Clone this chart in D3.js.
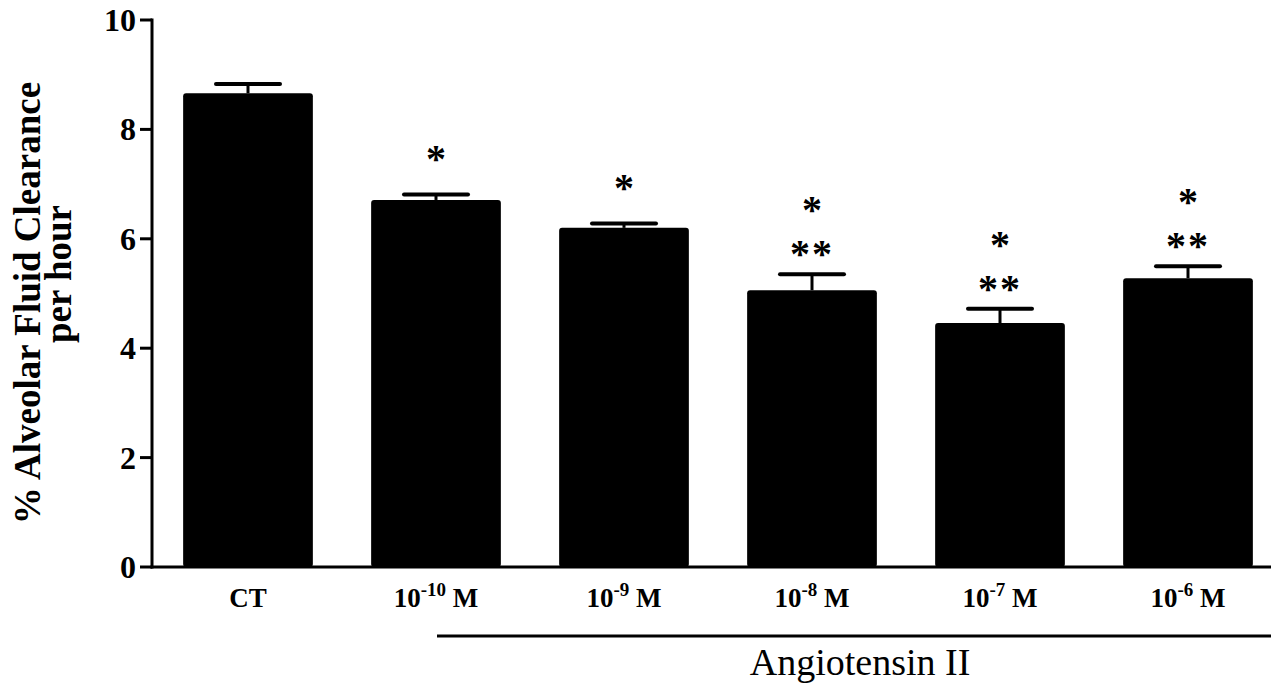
<!DOCTYPE html>
<html>
<head>
<meta charset="utf-8">
<script src="https://cdn.jsdelivr.net/npm/d3@7"></script>
<style>
  body { margin: 0; background: #fff; }
  text { font-family: "Times New Roman", Times, "Liberation Serif", "DejaVu Serif", serif; fill: #000; }
  .tick-label { font-size: 32px; font-weight: bold; }
  .cat-label { font-size: 27px; font-weight: bold; }
  .y-title { font-size: 37px; font-weight: bold; }
  .star { font-size: 40px; font-weight: bold; }
  .group-label { font-size: 38px; }
</style>
</head>
<body>
<div class="chart"></div>
<script>
const categories = ['CT', '10-10', '10-9', '10-8', '10-7', '10-6'];
const exponents = [null, '-10', '-9', '-8', '-7', '-6'];
const means = [8.66, 6.71, 6.20, 5.06, 4.46, 5.28];
const sems = [0.17, 0.10, 0.08, 0.29, 0.26, 0.22];
const stars = [[], ['*'], ['*'], ['**', '*'], ['**', '*'], ['**', '*']];
const yTicks = [0, 2, 4, 6, 8, 10];

const W = 1271, H = 685;

const svg = d3.select('.chart')
  .append('svg')
    .attr('width', W)
    .attr('height', H);

// scales
const x = d3.scaleBand()
  .domain(categories)
  .range([154, 1282])
  .paddingInner(0.31)
  .paddingOuter(0.155);

const y = d3.scaleLinear()
  .domain([0, 10])
  .range([567, 20]);

// bars
svg.append('g')
  .selectAll('rect')
  .data(categories)
  .enter().append('rect')
    .attr('x', d => x(d))
    .attr('y', (d, i) => y(means[i]))
    .attr('width', x.bandwidth())
    .attr('height', (d, i) => y(0) - y(means[i]))
    .attr('rx', 3)
    .style('fill', '#000');

// error bars (upper only)
const err = svg.append('g');
categories.forEach((c, i) => {
  const cx = x(c) + x.bandwidth() / 2;
  err.append('line')
    .attr('x1', cx).attr('x2', cx)
    .attr('y1', y(means[i])).attr('y2', y(means[i] + sems[i]))
    .attr('stroke', '#000').attr('stroke-width', 3);
  err.append('line')
    .attr('x1', cx - 32).attr('x2', cx + 32)
    .attr('y1', y(means[i] + sems[i])).attr('y2', y(means[i] + sems[i]))
    .attr('stroke', '#000').attr('stroke-width', 4)
    .attr('stroke-linecap', 'round');
});

// significance marks
categories.forEach((c, i) => {
  const cx = x(c) + x.bandwidth() / 2;
  const top = y(means[i] + sems[i]);
  stars[i].forEach((s, j) => {
    const centre = stars[i].length === 1 ? top - 36 : top - 21 - j * 44;
    svg.append('text')
      .attr('class', 'star')
      .attr('x', cx)
      .attr('y', centre + 14)
      .attr('text-anchor', 'middle')
      .style('letter-spacing', s.length > 1 ? '2px' : null)
      .text(s);
  });
});

// y axis
svg.append('line')
  .attr('x1', 152).attr('x2', 152)
  .attr('y1', y(10) - 1.5).attr('y2', y(0) + 1.5)
  .attr('stroke', '#000').attr('stroke-width', 3);

svg.selectAll('.ytick')
  .data(yTicks)
  .enter().append('line')
    .attr('class', 'ytick')
    .attr('x1', 140).attr('x2', 152)
    .attr('y1', d => y(d)).attr('y2', d => y(d))
    .attr('stroke', '#000').attr('stroke-width', 3);

svg.selectAll('.tick-label')
  .data(yTicks)
  .enter().append('text')
    .attr('class', 'tick-label')
    .attr('x', 136)
    .attr('y', d => y(d) + 11)
    .attr('text-anchor', 'end')
    .text(d => d);

// x axis
svg.append('line')
  .attr('x1', 150.5).attr('x2', W)
  .attr('y1', y(0)).attr('y2', y(0))
  .attr('stroke', '#000').attr('stroke-width', 3);

// category labels
categories.forEach((c, i) => {
  const t = svg.append('text')
    .attr('class', 'cat-label')
    .attr('x', x(c) + x.bandwidth() / 2)
    .attr('y', 607)
    .attr('text-anchor', 'middle');
  if (exponents[i] === null) {
    t.text(c);
  } else {
    t.append('tspan').text('10');
    t.append('tspan').attr('dy', -11).style('font-size', '19px').text(exponents[i]);
    t.append('tspan').attr('dy', 11).text(' M');
  }
});

// group bracket
svg.append('line')
  .attr('x1', 437).attr('x2', W)
  .attr('y1', 636).attr('y2', 636)
  .attr('stroke', '#000').attr('stroke-width', 3);

svg.append('text')
  .attr('class', 'group-label')
  .attr('x', 860)
  .attr('y', 675)
  .attr('text-anchor', 'middle')
  .text('Angiotensin II');

// y title
svg.append('text')
  .attr('class', 'y-title')
  .attr('transform', 'translate(40,303) rotate(-90)')
  .attr('text-anchor', 'middle')
  .text('% Alveolar Fluid Clearance');

svg.append('text')
  .attr('class', 'y-title')
  .attr('transform', 'translate(71,274) rotate(-90)')
  .attr('text-anchor', 'middle')
  .text('per hour');
</script>
</body>
</html>
